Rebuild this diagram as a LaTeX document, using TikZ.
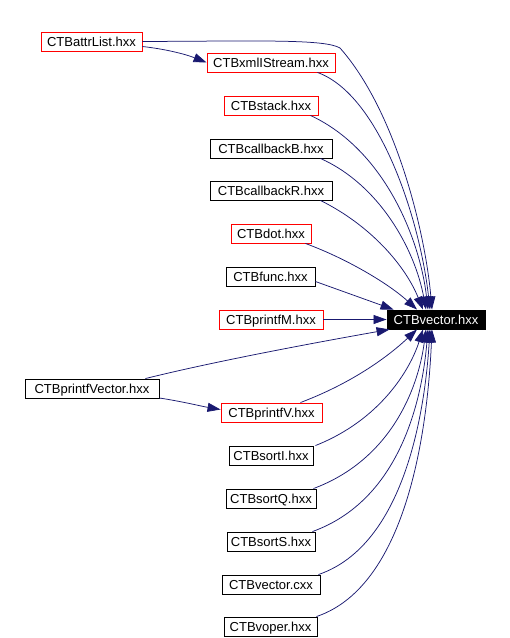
\documentclass[tikz,border=0pt]{standalone}
\usepackage{fontspec}
\setmainfont{Liberation Sans}
\usetikzlibrary{arrows.meta,calc}
\definecolor{edgecol}{HTML}{191970}
\tikzset{
  box/.style={draw, line width=0.9pt, minimum height=19, inner sep=0pt, text height=9.4pt, text depth=0pt, font=\fontsize{13}{15}\selectfont, anchor=center},
  redbox/.style={box, draw=red},
  blkbox/.style={box, draw=black},
  edge/.style={draw=edgecol, line width=0.75pt, -{Triangle[length=13pt,width=9pt]}},
}
\begin{document}
\begin{tikzpicture}[x=1pt,y=-1pt]
\useasboundingbox (0,0) rectangle (510,638);
\node[redbox, minimum width=101] (attr) at (91.5,41.5) {CTBattrList.hxx};
\node[redbox, minimum width=128] (xml) at (271,62.5) {CTBxmlIStream.hxx};
\node[redbox, minimum width=94] (stack) at (271,105.5) {CTBstack.hxx};
\node[blkbox, minimum width=122] (cbB) at (271,148.5) {CTBcallbackB.hxx};
\node[blkbox, minimum width=122] (cbR) at (271,190.5) {CTBcallbackR.hxx};
\node[redbox, minimum width=80] (dot) at (271,233.5) {CTBdot.hxx};
\node[blkbox, minimum width=89] (func) at (270.5,276.5) {CTBfunc.hxx};
\node[redbox, minimum width=104] (pM) at (271,319.5) {CTBprintfM.hxx};
\node[box, fill=black, draw=black, text=white, minimum width=98] (vec) at (436,319.5) {CTBvector.hxx};
\node[blkbox, minimum width=134] (pVec) at (92,388.5) {CTBprintfVector.hxx};
\node[redbox, minimum width=101] (pV) at (271.5,412.5) {CTBprintfV.hxx};
\node[blkbox, minimum width=84] (sI) at (271,455.5) {CTBsortI.hxx};
\node[blkbox, minimum width=90] (sQ) at (271,498.5) {CTBsortQ.hxx};
\node[blkbox, minimum width=88] (sS) at (271,541.5) {CTBsortS.hxx};
\node[blkbox, minimum width=98] (vcxx) at (271,584.5) {CTBvector.cxx};
\node[blkbox, minimum width=93] (voper) at (270.5,626.5) {CTBvoper.hxx};

% edges from above
\draw[edge] (attr.east) .. controls (260,41) and (325,39) .. (340,48)
  .. controls (395,110) and (425,230) .. ($(vec.north)+(-4,0)$);
\draw[edge] ($(attr.east)+(0,5)$) .. controls (165,49) and (185,54) .. (xml.west);
\draw[edge] ($(xml.south east)+(-18,0)$) .. controls (380,95) and (420,220) .. ($(vec.north)+(-6,0)$);
\draw[edge] ($(stack.south east)+(-8,0)$) .. controls (385,150) and (420,240) .. ($(vec.north)+(-8,0)$);
\draw[edge] ($(cbB.south east)+(-12,0)$) .. controls (380,185) and (415,250) .. ($(vec.north)+(-10,0)$);
\draw[edge] ($(cbR.south east)+(-12,0)$) .. controls (370,225) and (405,265) .. ($(vec.north)+(-13,0)$);
\draw[edge] ($(dot.south east)+(-6,0)$) .. controls (350,260) and (390,285) .. ($(vec.north)+(-19,0)$);
\draw[edge] ($(func.east)+(0,5)$) -- ($(vec.north west)+(7,0)$);
\draw[edge] (pM.east) -- (vec.west);
% edges from below
\draw[edge] ($(pVec.north east)+(-14,0)$) .. controls (220,360) and (330,340) .. ($(vec.south west)+(3,0)$);
\draw[edge] ($(pVec.east)+(0,9.5)$) .. controls (185,402) and (200,406) .. ($(pV.west)+(0,-3)$);
\draw[edge] ($(pV.north east)+(-22,0)$) .. controls (360,380) and (395,350) .. ($(vec.south)+(-19,0)$);
\draw[edge] ($(sI.north east)+(2,0)$) .. controls (380,420) and (410,370) .. ($(vec.south)+(-13,0)$);
\draw[edge] ($(sQ.north east)+(-3,0)$) .. controls (390,460) and (418,390) .. ($(vec.south)+(-10,0)$);
\draw[edge] ($(sS.north east)+(-3,0)$) .. controls (400,500) and (422,400) .. ($(vec.south)+(-8,0)$);
\draw[edge] ($(vcxx.north east)+(-2,0)$) .. controls (405,545) and (425,410) .. ($(vec.south)+(-6,0)$);
\draw[edge] ($(voper.north east)+(-1,0)$) .. controls (410,585) and (428,420) .. ($(vec.south)+(-4,0)$);
\end{tikzpicture}
\end{document}
